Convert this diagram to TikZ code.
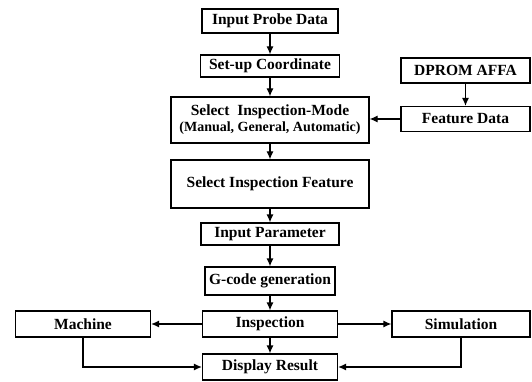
\documentclass[tikz,border=0pt]{standalone}
\usepackage{fontspec}
\setmainfont{Liberation Serif}
\usetikzlibrary{arrows.meta}
\begin{document}
\begin{tikzpicture}[x=1pt,y=-1pt,> = {Latex[length=8pt,width=7pt]},
	box/.style={draw,line width=1.2pt,inner sep=0pt,align=center,font=\bfseries\fontsize{15.5}{17}\selectfont},
	flow/.style={->,line width=1.2pt}]
			\useasboundingbox (0,0) rectangle (532,382);
			\node[box,minimum width=136,minimum height=24] (probe) at (270,21) {Input Probe Data};
			\node[box,minimum width=139,minimum height=22] (setup) at (270,66) {Set-up Coordinate};
			\node[box,minimum width=198,minimum height=46] (mode) at (270,120) {Select\ \ Inspection-Mode\\[-1pt]{\fontsize{14}{16}\selectfont (Manual, General, Automatic)}};
			\node[box,minimum width=198,minimum height=48] (feature) at (270,184) {Select Inspection Feature};
			\node[box,minimum width=138,minimum height=22] (param) at (270,234) {Input Parameter};
			\node[box,minimum width=130,minimum height=28] (gcode) at (270,281) {G-code generation};
			\node[box,minimum width=135,minimum height=26] (insp) at (270,324) {Inspection};
			\node[box,minimum width=135,minimum height=26] (display) at (270,367) {Display Result};
				%%%%%%%%
			\node[box,minimum width=135,minimum height=26] (machine) at (83,324) {Machine};
			\node[box,minimum width=138,minimum height=26] (sim) at (461,324) {Simulation};
			\node[box,minimum width=129,minimum height=25] (dprom) at (465.5,70.5) {DPROM AFFA};
			\node[box,minimum width=129,minimum height=25] (data) at (465.5,119) {Feature Data};
				%%%%%%%%
			\draw[flow] (probe)--(setup);
			\draw[flow] (setup)--(mode);
			\draw[flow] (mode)--(feature);
			\draw[flow] (feature)--(param);
			\draw[flow] (param)--(gcode);
			\draw[flow] (gcode)--(insp);
			\draw[flow] (insp)--(display);
			\draw[flow] (dprom)--(data);
			\draw[flow] (data.west)--(data.west -| mode.east);
			\draw[flow] (insp)--(machine);
			\draw[flow] (insp)--(sim);
			\draw[flow] (machine.south)|-(display.west);
			\draw[flow] (sim.south)|-(display.east);
		\end{tikzpicture}
\end{document}
